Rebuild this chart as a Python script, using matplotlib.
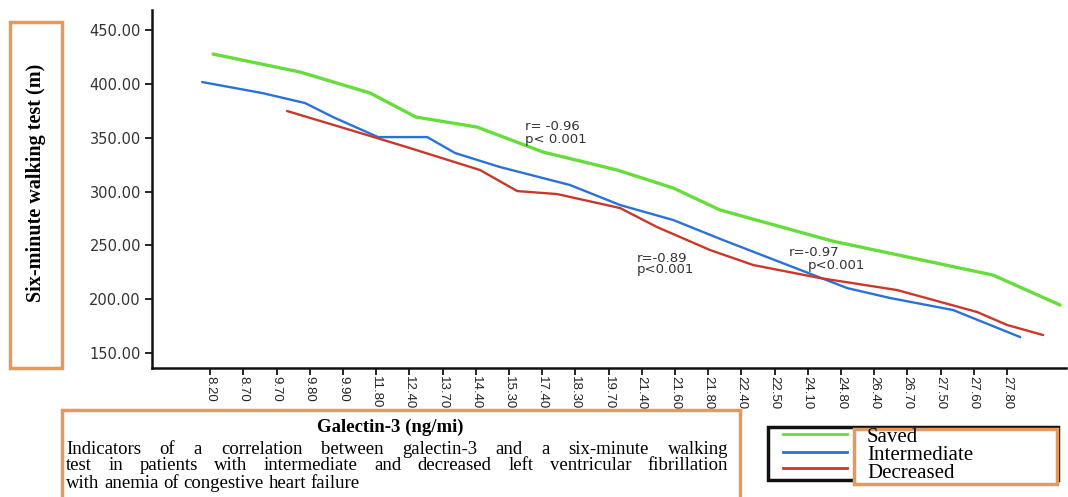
import matplotlib
matplotlib.use("Agg")
import matplotlib.pyplot as plt
from matplotlib.patches import Rectangle
from matplotlib.lines import Line2D

# ---------------- data ----------------
tick_labels = ["8.20", "8.70", "9.70", "9.80", "9.90", "11.80", "12.40", "13.70",
               "14.40", "15.30", "17.40", "18.30", "19.70", "21.40", "21.60", "21.80",
               "22.40", "22.50", "24.10", "24.80", "26.40", "26.70", "27.50", "27.60",
               "27.80"]

saved_x = [0.09, 2.71, 4.82, 6.20, 8.04, 10.03, 12.26, 13.95, 15.36, 18.75, 23.58, 25.60]
saved_y = [427.7, 411.0, 391.5, 369.2, 359.9, 336.7, 320.0, 303.3, 282.9, 254.0, 222.5, 194.7]

inter_x = [-0.24, 1.57, 2.86, 3.70, 5.06, 6.54, 7.38, 8.73, 10.84, 12.35, 13.95, 15.45,
           19.19, 20.48, 22.38, 24.40]
inter_y = [401.7, 391.5, 382.2, 369.2, 350.6, 350.6, 335.8, 322.8, 306.1, 287.5, 273.6,
           255.0, 210.4, 201.2, 190.0, 164.9]

decr_x = [2.32, 5.03, 6.02, 8.13, 9.25, 10.45, 12.35, 13.46, 15.06, 16.36, 18.37, 20.69,
          23.10, 24.01, 25.09]
decr_y = [374.8, 349.7, 340.4, 320.0, 300.5, 297.7, 284.7, 267.1, 245.7, 231.8, 219.7,
          208.6, 188.2, 176.1, 166.8]

y_ticks = [150, 200, 250, 300, 350, 400, 450]
series_names = ["Saved", "Intermediate", "Decreased"]
colors = ["#66dd3c", "#2b72d6", "#c8392a"]

annotations = [("r= -0.96", 525, 127), ("p< 0.001", 525, 139),
               ("r=-0.89", 637, 258), ("p<0.001", 637, 270),
               ("r=-0.97", 789, 253), ("p<0.001", 808, 265)]

title_text = "Galectin-3 (ng/mi)"
para_lines = ["Indicators of a correlation between galectin-3 and a six-minute walking",
              "test in patients with intermediate and decreased left ventricular fibrillation",
              "with anemia of congestive heart failure"]
ylabel_text = "Six-minute walking test (m)"

# ---------------- figure ----------------
W, H = 1068, 497
fig = plt.figure(figsize=(W / 100, H / 100), dpi=100)
fig.patch.set_facecolor("white")


def fx(x):
    return x / W


def fy(y):
    return 1 - y / H


SERIF = ["Liberation Serif", "DejaVu Serif"]
SANS = ["DejaVu Sans"]
ORANGE = "#e39a5e"

ax = fig.add_axes([fx(152), fy(368), (1066 - 152) / W, (368 - 10) / H])
for xs, ys, c, lw in [(saved_x, saved_y, colors[0], 2.4),
                      (inter_x, inter_y, colors[1], 1.7),
                      (decr_x, decr_y, colors[2], 1.7)]:
    ax.plot(xs, ys, color=c, lw=lw, solid_joinstyle="round", solid_capstyle="round")

ax.set_xlim(-1.75, 25.78)
ax.set_ylim(136.2, 468.6)
ax.set_yticks(y_ticks)
ax.set_yticklabels([f"{v:.2f}" for v in y_ticks], fontsize=10.5, family=SANS, color="#333333")
ax.set_xticks(range(len(tick_labels)))
ax.set_xticklabels(tick_labels, rotation=270, fontsize=9.5, family=["Liberation Sans"],
                   color="#222222")
ax.tick_params(axis="y", direction="out", length=5, width=1.2, pad=3)
ax.tick_params(axis="x", direction="out", length=5, width=1.2, pad=1)
for s in ["top", "right"]:
    ax.spines[s].set_visible(False)
for s in ["left", "bottom"]:
    ax.spines[s].set_linewidth(1.8)
    ax.spines[s].set_color("#111111")

# annotations
for txt, x, y in annotations:
    fig.text(fx(x), fy(y), txt, fontsize=9.5, family=SANS, color="#333333",
             ha="left", va="center")

# y label box
fig.patches.append(Rectangle((fx(10), fy(368)), (62 - 10) / W, (368 - 22) / H,
                             transform=fig.transFigure, fill=False,
                             edgecolor=ORANGE, lw=2.5))
fig.text(fx(36), fy(183), ylabel_text, rotation=90, fontsize=14.5, fontweight="bold",
         family=SERIF, ha="center", va="center")

# bottom caption box
fig.patches.append(Rectangle((fx(62), fy(510)), (740 - 62) / W, (510 - 410) / H,
                             transform=fig.transFigure, fill=False,
                             edgecolor=ORANGE, lw=2.5))
fig.text(fx(390), fy(427), title_text, fontsize=13.5, fontweight="bold", family=SERIF,
         ha="center", va="center")

renderer = fig.canvas.get_renderer()


def text_width(s, fs):
    t = fig.text(0, 0, s, fontsize=fs, family=SERIF)
    w = t.get_window_extent(renderer).width
    t.remove()
    return w


def place_line(line, x0, x1, y, fs, justify=True):
    words = line.split()
    texts = [fig.text(0, fy(y), w, fontsize=fs, family=SERIF, ha="left", va="center")
             for w in words]
    widths = [t.get_window_extent(renderer).width for t in texts]
    if justify and len(words) > 1:
        gap = (x1 - x0 - sum(widths)) / (len(words) - 1)
    else:
        gap = text_width("a a", fs) - text_width("aa", fs)
    x = x0
    for t, w in zip(texts, widths):
        t.set_x(fx(x))
        x += w + gap


place_line(para_lines[0], 66, 728, 449, 13.5)
place_line(para_lines[1], 66, 728, 466, 13.5)
place_line(para_lines[2], 66, 728, 483, 13.5, justify=False)

# legend
fig.patches.append(Rectangle((fx(768), fy(480)), (1058 - 768) / W, (480 - 427) / H,
                             transform=fig.transFigure, fill=False,
                             edgecolor="#111111", lw=2.5))
for c, yy in zip(colors, [434, 452, 468]):
    fig.add_artist(Line2D([fx(783), fx(847)], [fy(yy), fy(yy)], color=c, lw=2,
                          transform=fig.transFigure))
fig.patches.append(Rectangle((fx(854), fy(484)), (1057 - 854) / W, (484 - 429) / H,
                             transform=fig.transFigure, facecolor="white",
                             edgecolor=ORANGE, lw=2.5))
for name, yy in zip(series_names, [438, 456, 474]):
    fig.text(fx(867), fy(yy), name, fontsize=15, family=SERIF, ha="left", va="center")

fig.savefig("out.png", dpi=100, facecolor="white")
